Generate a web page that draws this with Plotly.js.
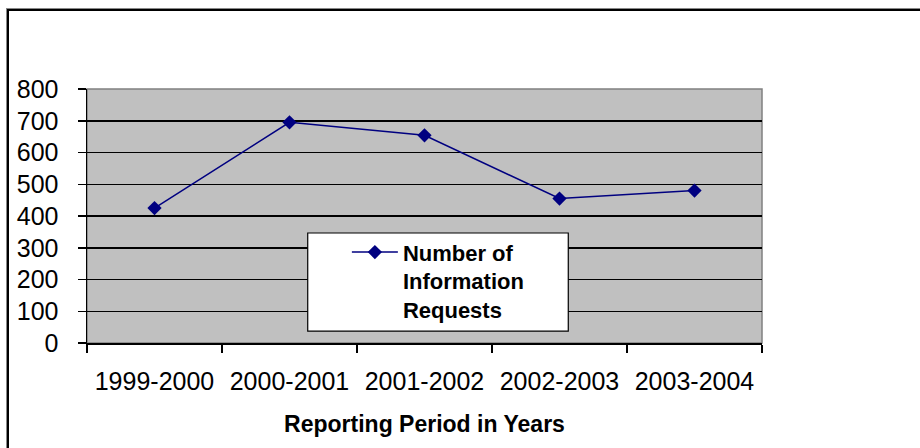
<!DOCTYPE html>
<html>
<head>
<meta charset="utf-8">
<script src="https://cdn.plot.ly/plotly-3.0.1.min.js"></script>
<style>
  html, body { margin: 0; padding: 0; background: #fff; }
  #wrap { position: relative; width: 920px; height: 448px; overflow: hidden; }
  #chart { position: absolute; left: 0; top: 0; width: 920px; height: 448px; }
  #frame { position: absolute; left: 7px; top: 9px; width: 1000px; height: 600px;
           border-left: 2px solid #000; border-top: 2px solid #000; pointer-events: none;
           box-shadow: -1px -1px 0 #888; }
</style>
</head>
<body>
<div id="wrap">
  <div id="chart"></div>
  <div id="frame"></div>
</div>
<script>
const periods = ["1999-2000", "2000-2001", "2001-2002", "2002-2003", "2003-2004"];
const requests = [425, 695, 654, 455, 480];
const seriesName = "Number of<br>Information<br>Requests";
const xTitle = "Reporting Period in Years";

const trace = {
  x: periods,
  y: requests,
  type: "scatter",
  mode: "lines+markers",
  name: seriesName,
  line: { color: "#000080", width: 1.5 },
  marker: { symbol: "diamond", size: 11, color: "#000080" }
};

const layout = {
  width: 920,
  height: 448,
  margin: { l: 87, r: 158, t: 89, b: 105 },
  paper_bgcolor: "#ffffff",
  plot_bgcolor: "#c0c0c0",
  font: { family: "Liberation Sans, Arial, sans-serif", color: "#000" },
  showlegend: true,
  legend: {
    x: 0.385, y: 0.44, xanchor: "left", yanchor: "top",
    bgcolor: "rgba(0,0,0,0)", borderwidth: 0,
    valign: "top",
    itemwidth: 46,
    font: { family: "Liberation Sans, Arial, sans-serif", size: 22, color: "#000", weight: "bold" }
  },
  xaxis: {
    type: "category",
    range: [-0.5, 4.5],
    showgrid: false,
    zeroline: false,
    showline: true, linecolor: "#000", linewidth: 1.5,
    ticks: "outside", tickson: "boundaries", ticklen: 8, tickcolor: "#000", tickwidth: 1.5,
    ticklabelstandoff: 15,
    tickfont: { size: 25, family: "Liberation Sans, Arial, sans-serif" },
    title: { text: xTitle, standoff: 22, font: { size: 23, weight: "bold", family: "Liberation Sans, Arial, sans-serif" } },
    fixedrange: true
  },
  yaxis: {
    range: [0, 800],
    dtick: 100,
    showgrid: true, gridcolor: "#000", gridwidth: 1.5,
    zeroline: false,
    showline: true, linecolor: "#000", linewidth: 1.5,
    ticks: "outside", ticklen: 8, tickcolor: "#000", tickwidth: 1.5,
    ticklabelstandoff: 14,
    tickfont: { size: 25, family: "Liberation Sans, Arial, sans-serif" },
    fixedrange: true
  },
  shapes: [
    { type: "rect", xref: "paper", yref: "paper", x0: 0, x1: 1, y0: 0, y1: 1,
      line: { color: "#808080", width: 1.5 }, fillcolor: "rgba(0,0,0,0)", layer: "below" },
    { type: "rect", xref: "paper", yref: "paper", x0: 0.327, x1: 0.713, y0: 0.047, y1: 0.433,
      line: { color: "#000", width: 1.2 }, fillcolor: "#ffffff", layer: "above" }
  ]
};

Plotly.newPlot("chart", [trace], layout, { displayModeBar: false, staticPlot: true });
</script>
</body>
</html>
